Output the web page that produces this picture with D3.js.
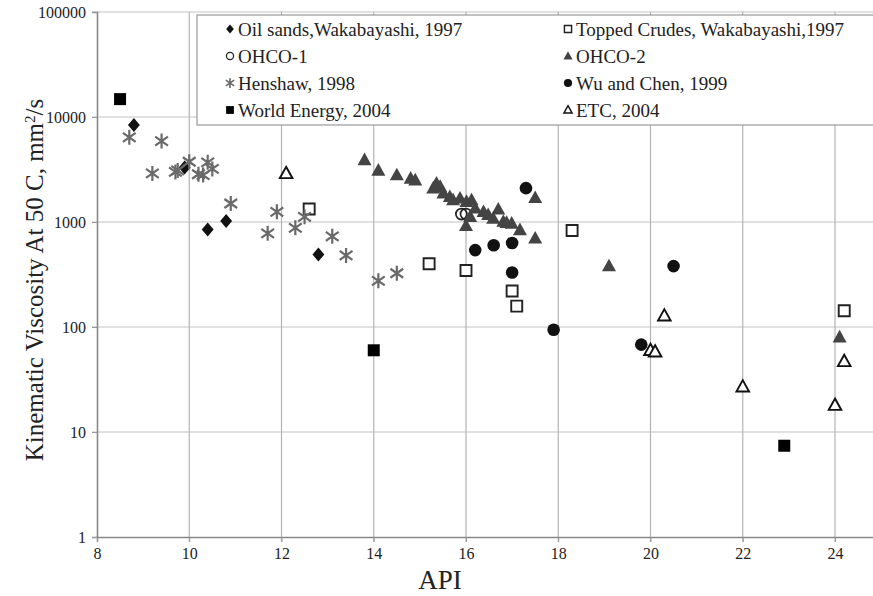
<!DOCTYPE html>
<html><head><meta charset="utf-8">
<script src="https://cdn.jsdelivr.net/npm/d3@7/dist/d3.min.js"></script>
<style>body{margin:0;background:#fff}svg{display:block}svg text{font-family:'Liberation Serif','Times New Roman','DejaVu Serif',serif !important}</style>
</head><body><svg id="c" width="873" height="596" font-family="Liberation Serif"></svg>
<script>
const xTicks = [8,10,12,14,16,18,20,22,24];
const yTicks = [1,10,100,1000,10000,100000];
const seriesNames = ["Oil sands,Wakabayashi, 1997","Topped Crudes, Wakabayashi,1997","OHCO-1","OHCO-2","Henshaw, 1998","Wu and Chen, 1999","World Energy, 2004","ETC, 2004"];
const oilSandsApi = [8.8,9.9,10.8,10.4,12.8];
const oilSandsVis = [8400,3300,1020,850,490];
const toppedApi = [12.6,15.2,16.0,17.0,17.1,18.3,24.2];
const toppedVis = [1330,400,345,220,158,830,143];
const ohco1Api = [15.9,16.0];
const ohco1Vis = [1190,1190];
const ohco2Api = [13.8,14.1,14.5,14.8,14.9,15.36,15.29,15.44,15.51,15.65,15.72,15.87,16.01,16.12,16.2,16.09,16.0,16.38,16.48,16.7,16.59,16.81,16.88,16.99,17.17,17.5,17.5,19.1,24.1];
const ohco2Vis = [3900,3100,2800,2600,2500,2340,2100,2170,1880,1740,1620,1680,1560,1620,1350,1120,920,1250,1170,1320,1080,1010,985,970,840,700,1700,380,80];
const henshawApi = [8.7,9.4,9.2,9.7,9.75,10.0,10.2,10.3,10.4,10.5,10.9,11.9,11.7,12.3,12.5,13.1,13.4,14.1,14.5];
const henshawVis = [6400,5900,2900,3000,3100,3750,2850,2800,3700,3200,1500,1250,780,880,1120,730,480,275,325];
const wuApi = [17.3,16.2,16.6,17.0,17.0,17.9,19.8,20.5];
const wuVis = [2100,540,600,630,330,94,68,380];
const worldApi = [8.5,14.0,22.9];
const worldVis = [14800,60,7.4];
const etcApi = [12.1,20.3,20.0,20.1,22.0,24.2,24.0];
const etcVis = [2900,128,60,58,27,47,18];

const FONT = "'Liberation Serif','Times New Roman','DejaVu Serif',serif";
const svg = d3.select("#c");
const L=97, T=12, B=537;
const x = d3.scaleLinear().domain([8,25]).range([L, L+17*46.125]);
const y = d3.scaleLog().domain([1,100000]).range([B,T]);
const R = x(25);

// gridlines
svg.append("g").selectAll("line").data(yTicks.slice(1)).join("line")
  .attr("x1",L-5).attr("x2",R).attr("y1",d=>y(d)).attr("y2",d=>y(d))
  .attr("stroke","#c4c4c4").attr("stroke-width",1.2);
svg.append("g").selectAll("line").data(xTicks.slice(1)).join("line")
  .attr("x1",d=>x(d)).attr("x2",d=>x(d)).attr("y1",T).attr("y2",B+5)
  .attr("stroke","#b4b4b4").attr("stroke-width",1.2);

// axes
const xa = svg.append("g").attr("transform",`translate(0,${B})`)
  .call(d3.axisBottom(x).tickValues(xTicks).tickSize(5).tickFormat(d3.format("d")));
const ya = svg.append("g").attr("transform",`translate(${L},0)`)
  .call(d3.axisLeft(y).tickValues(yTicks).tickSize(5).tickFormat(d3.format("d")));
[xa,ya].forEach(a=>{
  a.attr("font-family",FONT);
  a.select(".domain").attr("stroke","#888").attr("stroke-width",1.6);
  a.selectAll(".tick line").attr("stroke","#999");
  a.selectAll("text").style("font-family",FONT).attr("font-size",16).attr("fill","#222");
});
xa.selectAll("text").attr("y",16).attr("dy","0.35em");
ya.selectAll("text").attr("x",-11).attr("dy","0.35em");

// titles
svg.append("text").attr("x",440).attr("y",589).attr("text-anchor","middle")
  .style("font-family",FONT).attr("font-size",27).attr("fill","#222").text("API");
const yt = svg.append("text").attr("transform","translate(43,280) rotate(-90)")
  .style("font-family",FONT).attr("text-anchor","middle").attr("font-size",25).attr("fill","#222");
yt.append("tspan").text("Kinematic Viscosity At 50 C, mm");
yt.append("tspan").attr("baseline-shift","super").attr("font-size",15).text("2");
yt.append("tspan").text("/s");

// markers
const sym = {
  diamond: s=>`M0,${-s}L${s*0.85},0L0,${s}L${-s*0.85},0Z`,
  square: s=>`M${-s},${-s}H${s}V${s}H${-s}Z`,
  circle: s=>d3.symbol(d3.symbolCircle, Math.PI*s*s)(),
  tri: s=>`M0,${-s*1.05}L${s},${s*0.75}L${-s},${s*0.75}Z`,
  star: s=>`M0,${-s}V${s}M${-s*0.85},${-s*0.6}L${s*0.85},${s*0.6}M${-s*0.85},${s*0.6}L${s*0.85},${-s*0.6}`
};
const styles = [
  {api:oilSandsApi, vis:oilSandsVis, shape:"diamond", size:7, fill:"#111", stroke:"none", sw:0},
  {api:toppedApi, vis:toppedVis, shape:"square", size:5.5, fill:"#fff", stroke:"#222", sw:1.9},
  {api:ohco1Api, vis:ohco1Vis, shape:"circle", size:5.5, fill:"none", stroke:"#222", sw:1.7},
  {api:ohco2Api, vis:ohco2Vis, shape:"tri", size:7, fill:"#444", stroke:"none", sw:0},
  {api:henshawApi, vis:henshawVis, shape:"star", size:7.5, fill:"none", stroke:"#6a6a6a", sw:2.2},
  {api:wuApi, vis:wuVis, shape:"circle", size:6.3, fill:"#111", stroke:"none", sw:0},
  {api:worldApi, vis:worldVis, shape:"square", size:6, fill:"#000", stroke:"none", sw:0},
  {api:etcApi, vis:etcVis, shape:"tri", size:6.3, fill:"#fff", stroke:"#111", sw:1.9}
];
const plot = svg.append("g");
styles.forEach(s=>{
  const data = s.api.map((a,i)=>[a,s.vis[i]]);
  plot.append("g").selectAll("path").data(data).join("path")
    .attr("transform",d=>`translate(${x(d[0])},${y(d[1])})`)
    .attr("d",sym[s.shape](s.size))
    .attr("fill",s.fill).attr("stroke",s.stroke).attr("stroke-width",s.sw);
});

// legend
const lg = svg.append("g");
lg.append("rect").attr("x",197).attr("y",15).attr("width",700).attr("height",110)
  .attr("fill","#fff").attr("stroke","#999").attr("stroke-width",1.2);
const order = [0,2,4,6,1,3,5,7];
order.forEach((si,k)=>{
  const col = k<4?0:1, row = k%4;
  const mx = col===0?230:568, my = 29+row*27;
  const s = styles[si];
  lg.append("path").attr("transform",`translate(${mx},${my})`)
    .attr("d",sym[s.shape](s.size*0.65))
    .attr("fill",s.fill).attr("stroke",s.stroke).attr("stroke-width",s.sw*0.75);
  lg.append("text").attr("x",mx+8).attr("y",my).attr("dy","0.35em")
    .style("font-family",FONT).attr("font-size",19).attr("fill","#222").text(seriesNames[si]);
});
</script></body></html>
